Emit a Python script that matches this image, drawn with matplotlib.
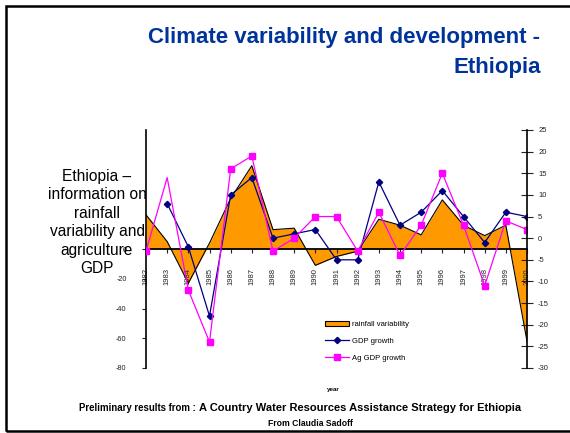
import numpy as np
import matplotlib.pyplot as plt
from matplotlib.patches import Rectangle, Patch
from matplotlib.lines import Line2D

plt.rcParams['font.family'] = ['Liberation Sans', 'DejaVu Sans']
plt.rcParams['axes.unicode_minus'] = False

years = list(range(1982, 2001))
rainfall = [23, 5, -23, 4, 34, 56, 13, 14, -11, -5, -1.5, 20, 16, 9.5, 33, 16, 9, 16, -62]
gdp_growth = [np.nan, 8, -2, -18, 10, 14, 0, 1, 2, -5, -5, 13, 3, 6, 11, 5, -1, 6, 5]
ag_gdp_growth = [-3, 14, -12, -24, 16, 19, -3, 0, 5, 5, -3, 6, -4, 3, 15, 3, -11, 4, 2]
left_ticks = [-80, -60, -40, -20, 0]
right_ticks = list(range(-30, 30, 5))

W, H = 570, 433
fig = plt.figure(figsize=(W / 100, H / 100), dpi=100)


def fx(px):
    return px / W


def fy(py):
    return 1 - py / H


# slide frame
fig.patches.append(Rectangle((fx(5.5), fy(431)), 1.2, fy(5.5) - fy(431),
                             transform=fig.transFigure, fill=False,
                             edgecolor='black', linewidth=1.8))

ax = fig.add_axes([fx(146), fy(368), fx(527) - fx(146), fy(130) - fy(368)])
ax2 = ax.twinx()

# rainfall variability as area on the left axis
ax.fill_between(years, rainfall, 0, color='#FF9900', linewidth=0)
ax.plot(years, rainfall, color='black', linewidth=0.8)
ax.set_xlim(1982, 2000)
ax.set_ylim(-80, 80)
ax.set_yticks(left_ticks)
ax.tick_params(axis='y', direction='out', length=3, pad=11, labelsize=5.2,
               colors='#222222')
ax.spines['top'].set_visible(False)
ax.spines['right'].set_visible(False)
ax.spines['bottom'].set_position(('data', 0))
ax.spines['bottom'].set_linewidth(1.3)
ax.spines['left'].set_linewidth(1.2)
ax.set_xticks(years)
ax.set_xticklabels([str(y) for y in years], rotation=90, fontsize=5.5)
ax.tick_params(axis='x', direction='out', length=3, pad=11, colors='#222222')

# growth series on the right axis
ax2.plot(years, gdp_growth, color='#000080', linewidth=0.9, marker='D',
         markersize=3.2)
ax2.plot(years, ag_gdp_growth, color='#FF00FF', linewidth=0.9, marker='s',
         markersize=5, markevery=[i for i in range(len(years)) if i != 1])
ax2.set_ylim(-30, 25)
ax2.set_yticks(right_ticks)
ax2.tick_params(axis='y', direction='inout', length=8, pad=4, labelsize=5.5,
                colors='#222222')
for s in ['top', 'left', 'bottom']:
    ax2.spines[s].set_visible(False)
ax2.spines['right'].set_linewidth(1.2)

handles = [Patch(facecolor='#FF9900', edgecolor='black', linewidth=0.8),
           Line2D([], [], color='#000080', marker='D', markersize=3.2, linewidth=0.9),
           Line2D([], [], color='#FF00FF', marker='s', markersize=5, linewidth=0.9)]
fig.legend(handles, ['rainfall variability', 'GDP growth', 'Ag GDP growth'],
           loc='upper left', bbox_to_anchor=(fx(318), fy(314)), frameon=False,
           fontsize=5.5, handlelength=3.1, handletextpad=0.4, labelspacing=1.22)

fig.text(fx(344), fy(38), 'Climate variability and development -', ha='center',
         va='center', fontsize=16, fontweight='bold', color='#003399')
fig.text(fx(541), fy(67), 'Ethiopia', ha='right', va='center', fontsize=16,
         fontweight='bold', color='#003399')

fig.text(fx(97), fy(222.5), 'Ethiopia –\ninformation on\nrainfall\nvariability and\nagriculture\nGDP',
         ha='center', va='center', fontsize=11.2, linespacing=1.29)

fig.text(fx(333), fy(389), 'year', ha='center', va='center', fontsize=4.5,
         fontweight='bold')
fig.text(fx(198), fy(408), 'Preliminary results from : ', ha='right',
         va='center', fontsize=6.9, fontweight='bold')
fig.text(fx(199), fy(408), 'A Country Water Resources Assistance Strategy for Ethiopia',
         ha='left', va='center', fontsize=8, fontweight='bold')
fig.text(fx(310), fy(423), 'From Claudia Sadoff', ha='center', va='center',
         fontsize=6.2, fontweight='bold')

fig.savefig('out.png', dpi=100)
